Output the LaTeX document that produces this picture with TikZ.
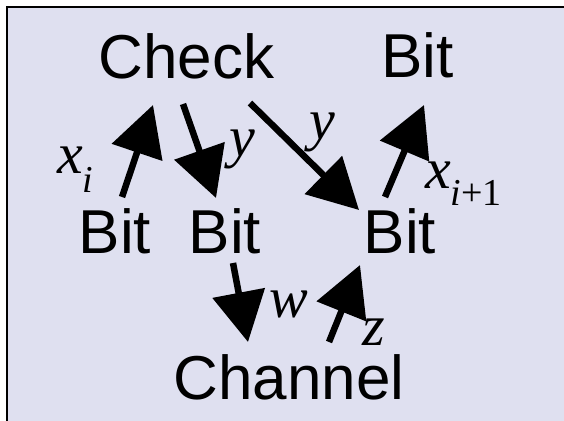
\documentclass[tikz,border=0pt]{standalone}
\usepackage{fontspec}
\setmainfont{Liberation Sans}
\newfontfamily\mathserif{Liberation Serif}
\usetikzlibrary{arrows.meta}
\definecolor{panelbg}{RGB}{223,224,240}
\tikzset{
  word/.style={anchor=base, inner sep=0pt, text height=45pt, text depth=0pt, font=\fontsize{62}{62}\selectfont},
  var/.style={anchor=base west, inner sep=0pt, font=\mathserif\itshape\fontsize{58}{58}\selectfont},
  bigarrow/.style={line width=6.5pt, -{Triangle[length=50pt,width=52pt]}},
}
\newcommand{\subtxt}[2]{\raisebox{#1}{\fontsize{38}{38}\selectfont #2}}
\begin{document}
\begin{tikzpicture}[x=1pt,y=-1pt]
\useasboundingbox (0,0) rectangle (564,420);
\clip (0,0) rectangle (564,420);
\fill[white] (0,0) rectangle (564,420);
\draw[fill=panelbg, line width=2pt] (7,7) rectangle (600,460);

\node[word] (check) at (186.5,78) {Check};
\node[word] (bittop) at (417.5,77) {Bit};
\node[word] (bitone) at (115,253) {Bit};
\node[word] (bittwo) at (225,253) {Bit};
\node[word] (bitthree) at (400,253) {Bit};
\node[word] (channel) at (289,399) {Channel};

\node[var] (lxi) at (57,173) {x\subtxt{-19pt}{i}};
\node[var] (ly1) at (229,156) {y};
\node[var] (ly2) at (309,139) {y};
\node[var] (lxi1) at (425,188) {x\subtxt{-17pt}{i{\upshape +1}}};
\node[var] (lw) at (269,317) {w};
\node[var, text depth=0pt] (lz) at (362,345) {z};

\coordinate (a1s) at (122,197); \coordinate (a1e) at (153,105);
\coordinate (a2s) at (183,104); \coordinate (a2e) at (216,198);
\coordinate (a3s) at (250,103); \coordinate (a3e) at (359,210);
\coordinate (a4s) at (385,197); \coordinate (a4e) at (424,105);
\coordinate (a5s) at (233,263); \coordinate (a5e) at (248,342);
\coordinate (a6s) at (329,342); \coordinate (a6e) at (360,265);

\draw[bigarrow] (a1s) -- (a1e);
\draw[bigarrow] (a2s) -- (a2e);
\draw[bigarrow] (a3s) -- (a3e);
\draw[bigarrow] (a4s) -- (a4e);
\draw[bigarrow] (a5s) -- (a5e);
\draw[bigarrow] (a6s) -- (a6e);
\end{tikzpicture}
\end{document}
